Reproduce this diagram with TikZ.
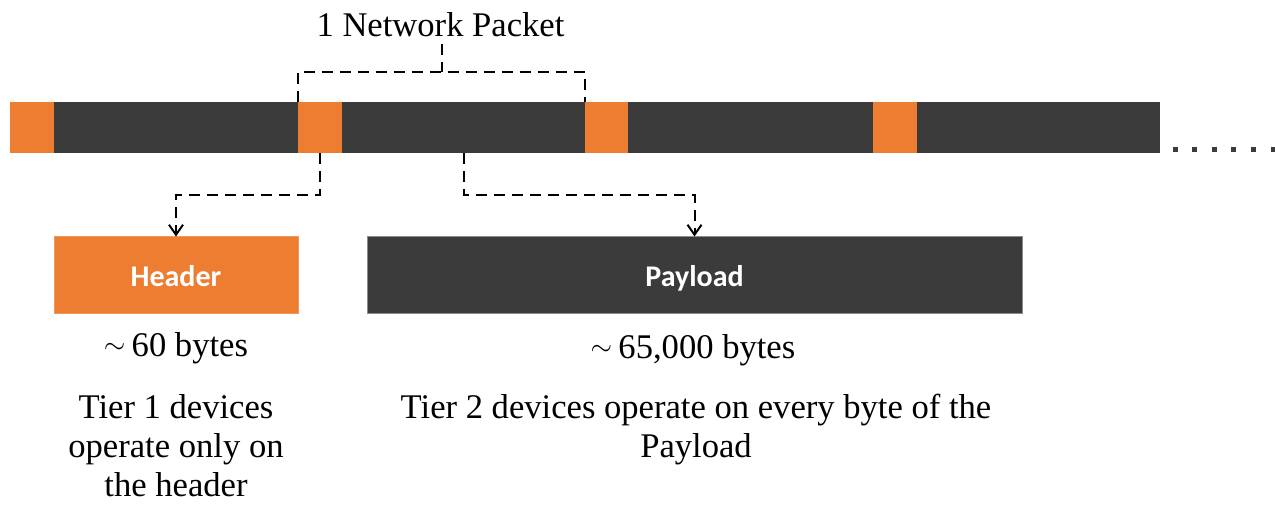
\documentclass[tikz,border=0pt]{standalone}
\usepackage{fontspec}
\setmainfont{Liberation Serif}
\newfontfamily\labelfont{Carlito}
\usetikzlibrary{arrows.meta}
\definecolor{pktorange}{HTML}{ED7D31}
\definecolor{pktdark}{HTML}{3B3B3B}
\newcommand{\approxsign}{\raisebox{0.25ex}{\scalebox{0.8}{$\sim$}}\hspace{0.18em}}
\tikzset{
  seg/.style={rectangle, inner sep=0pt, minimum height=25.5pt, draw=none},
  hseg/.style={seg, fill=pktorange, minimum width=22pt},
  pseg/.style={seg, fill=pktdark},
  box/.style={rectangle, inner sep=0pt, minimum height=38.5pt, line width=0.5pt,
    text depth=0pt, text=white, font=\labelfont\bfseries\fontsize{15pt}{18pt}\selectfont},
  caption/.style={inner sep=0pt, align=center,
    font=\fontsize{17.3pt}{19.5pt}\selectfont},
  dashline/.style={draw=black, line width=1pt, dash pattern=on 5.5pt off 3.5pt},
  tip/.style={-{Straight Barb[length=5pt,width=7pt]}},
}
\begin{document}
\begin{tikzpicture}[x=0.5pt,y=-0.5pt]
  \useasboundingbox (0,0) rectangle (1275,506);

  % packet stream: header / payload segments
  \node[hseg] (h1) at (32,127.5) {};
  \node[pseg, minimum width=122pt] (p1) at (176,127.5) {};
  \node[hseg] (h2) at (320,127.5) {};
  \node[pseg, minimum width=121.5pt] (p2) at (463.5,127.5) {};
  \node[hseg, minimum width=21.5pt] (h3) at (606.5,127.5) {};
  \node[pseg, minimum width=122.5pt] (p3) at (750.5,127.5) {};
  \node[hseg] (h4) at (895,127.5) {};
  \node[pseg, minimum width=121.5pt] (p4) at (1038.5,127.5) {};

  % continuation dots
  \foreach \i in {0,...,5}
    \fill[pktdark] ({1172.5+19.6*\i},147.5) rectangle ++(5,5);

  % bracket marking one packet
  \node[caption, anchor=base] (title) at (440.5,37) {1 Network Packet};
  \coordinate (brk) at (441.5,72);
  \draw[dashline] (h2.north west) -- ++(0,-30) -| (h3.north west);
  \draw[dashline] ([yshift=-3pt]title.south -| brk) -- (brk);

  % expanded header and payload
  \node[box, fill=pktorange, draw=pktorange!80!white, minimum width=122pt] (hdr) at (176,275.5) {Header};
  \node[box, fill=pktdark, draw=black!45, minimum width=327.5pt] (pay) at (694.5,275.5) {Payload};

  \draw[dashline, tip] (h2.south) -- ++(0,42) -| (hdr.north);
  \draw[dashline, tip] (p2.south) -- ++(0,42) -| (pay.north);

  % sizes and descriptions (base = baseline of the last line)
  \node[caption, anchor=base] (hsize) at (176,357) {\approxsign 60 bytes};
  \node[caption, anchor=base] (psize) at (693,359) {\approxsign 65,000 bytes};
  \node[caption, anchor=base] (hdesc) at (176,497) {Tier 1 devices\\operate only on\\the header};
  \node[caption, anchor=base] (pdesc) at (696,458) {Tier 2 devices operate on every byte of the\\Payload};
\end{tikzpicture}
\end{document}
